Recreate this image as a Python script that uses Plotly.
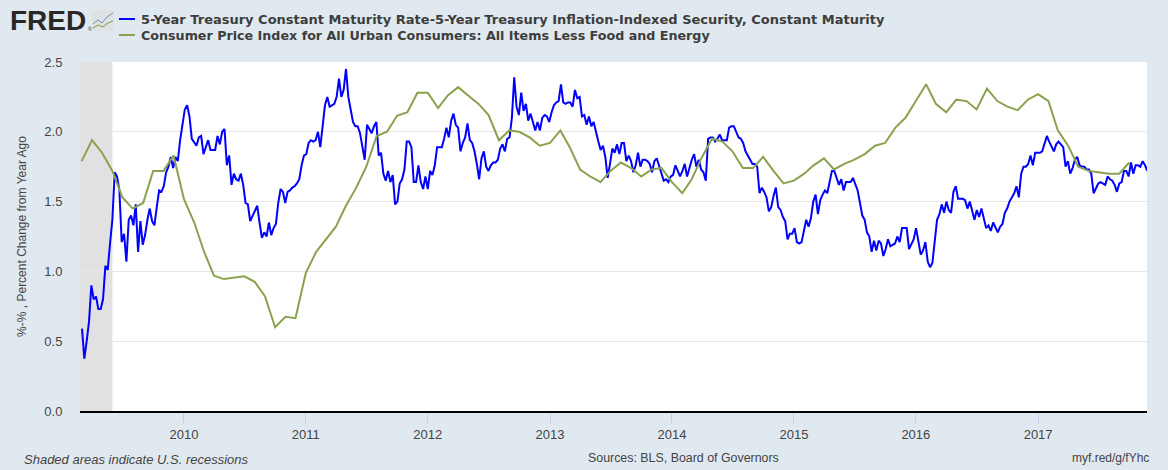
import pandas as pd
import plotly.graph_objects as go

W, H = 1168, 470
L, R, T, B = 80, 1147, 62, 411

spread_label = "5-Year Treasury Constant Maturity Rate-5-Year Treasury Inflation-Indexed Security, Constant Maturity"
cpi_label = "Consumer Price Index for All Urban Consumers: All Items Less Food and Energy"

# weekly breakeven
spread = [
    0.59, 0.375, 0.50, 0.64, 0.90, 0.80, 0.82, 0.73, 0.73, 0.80, 1.04, 1.01, 1.20, 1.37, 1.71, 1.68, 1.58,
    1.21, 1.27, 1.07, 1.37, 1.40, 1.33, 1.48, 1.14, 1.36, 1.19, 1.26, 1.37, 1.45, 1.36, 1.33, 1.46, 1.58,
    1.57, 1.61, 1.71, 1.75, 1.82, 1.74, 1.82, 1.79, 1.94, 2.07, 2.16, 2.19, 2.11, 1.95, 1.92, 1.90, 1.96,
    1.97, 1.84, 1.90, 1.94, 1.87, 1.87, 1.87, 1.97, 1.91, 2.00, 2.02, 1.76, 1.83, 1.62, 1.70, 1.66, 1.65,
    1.70, 1.62, 1.49, 1.48, 1.36, 1.40, 1.44, 1.47, 1.35, 1.24, 1.28, 1.25, 1.35, 1.26, 1.31, 1.34, 1.49,
    1.59, 1.57, 1.49, 1.57, 1.58, 1.60, 1.61, 1.63, 1.66, 1.76, 1.83, 1.84, 1.92, 1.94, 1.93, 1.94, 2.00,
    1.89, 2.06, 2.19, 2.25, 2.18, 2.19, 2.20, 2.25, 2.38, 2.25, 2.30, 2.45, 2.25, 2.16, 2.07, 2.04, 2.04,
    1.99, 1.89, 1.80, 2.05, 2.02, 1.99, 2.04, 2.07, 1.83, 1.85, 1.70, 1.65, 1.72, 1.64, 1.69, 1.48, 1.50,
    1.63, 1.66, 1.73, 1.93, 1.93, 1.89, 1.64, 1.64, 1.76, 1.64, 1.59, 1.68, 1.59, 1.72,
    1.69, 1.76, 1.89, 1.89, 1.89, 1.95, 2.03, 1.96, 2.08, 2.13, 2.05, 2.03, 1.86, 1.92, 1.96, 2.06, 1.94,
    1.92, 1.86, 1.77, 1.66, 1.81, 1.86, 1.75, 1.72, 1.76, 1.78, 1.78, 1.80, 1.88, 1.91, 1.86, 1.95, 1.96,
    2.10, 2.39, 2.18, 2.12, 2.28, 2.15, 2.20, 2.08, 2.13, 2.07, 2.01, 2.07, 2.01, 2.10, 2.12, 2.11, 2.07,
    2.14, 2.19, 2.21, 2.22, 2.34, 2.21, 2.20, 2.21, 2.21, 2.18, 2.30, 2.24, 2.25, 2.11, 2.12, 2.05, 2.11,
    2.04, 2.07, 1.99, 1.93, 1.87, 1.90, 1.82, 1.67, 1.77, 1.88, 1.85, 1.91, 1.84, 1.92, 1.92, 1.79, 1.83,
    1.79, 1.71, 1.76, 1.85, 1.75, 1.80, 1.80, 1.79, 1.77, 1.71, 1.79, 1.81, 1.76, 1.70, 1.65, 1.66, 1.64,
    1.68, 1.69, 1.76, 1.72, 1.68, 1.72, 1.77, 1.68, 1.75, 1.80, 1.84, 1.75, 1.80, 1.73, 1.71, 1.65, 1.95,
    1.96, 1.96, 1.93, 1.95, 1.98, 1.94, 1.94, 1.94, 2.03, 2.04, 2.04, 2.00, 1.96, 1.95, 1.92, 1.86, 1.83,
    1.80, 1.77, 1.77, 1.75, 1.56, 1.60, 1.57, 1.53, 1.43, 1.46, 1.54, 1.60, 1.46, 1.44, 1.39, 1.36, 1.23,
    1.27, 1.27, 1.31,
    1.21, 1.20, 1.21, 1.28, 1.37, 1.32, 1.38, 1.50, 1.55, 1.41, 1.51, 1.55, 1.58, 1.56, 1.65, 1.72, 1.72,
    1.67, 1.62, 1.66, 1.58, 1.64, 1.64, 1.64, 1.67, 1.63, 1.58, 1.49, 1.40, 1.37, 1.28, 1.25, 1.14, 1.22,
    1.15, 1.22, 1.20, 1.11, 1.16, 1.23, 1.18, 1.19, 1.20, 1.25, 1.21, 1.31, 1.31, 1.31, 1.16, 1.20, 1.23,
    1.31, 1.22, 1.12, 1.15, 1.21, 1.07, 1.03, 1.06, 1.22, 1.37, 1.41, 1.48, 1.42, 1.50, 1.44, 1.42, 1.57,
    1.61, 1.52, 1.52, 1.52, 1.51, 1.45, 1.50, 1.43, 1.37, 1.44, 1.39, 1.45, 1.37, 1.31, 1.33, 1.29, 1.35,
    1.32, 1.28, 1.32, 1.34, 1.42, 1.45, 1.50, 1.53, 1.56, 1.61, 1.53, 1.70, 1.75, 1.75, 1.77, 1.83, 1.76,
    1.85, 1.85, 1.85, 1.86, 1.92, 1.97, 1.93, 1.89, 1.86, 1.91, 1.93, 1.91, 1.89, 1.75, 1.79, 1.70, 1.74,
    1.80, 1.82, 1.76, 1.75, 1.75, 1.73, 1.73, 1.70, 1.56, 1.59, 1.63, 1.64, 1.63, 1.62, 1.68, 1.66, 1.65,
    1.62, 1.57, 1.63, 1.64, 1.72, 1.72, 1.68, 1.78, 1.70, 1.76, 1.76, 1.75, 1.79, 1.76, 1.72,
]

# monthly core CPI, percent change from a year ago, Mar 2009 - Oct 2017
cpi = [
    1.79, 1.94, 1.85, 1.72, 1.53, 1.45, 1.49, 1.72, 1.72, 1.83,
    1.52, 1.35, 1.15, 0.97, 0.945, 0.955, 0.965, 0.925, 0.82, 0.60, 0.675, 0.665,
    0.99, 1.14, 1.225, 1.32, 1.47, 1.60, 1.75, 1.97, 2.00, 2.115, 2.14, 2.28,
    2.28, 2.17, 2.26, 2.32, 2.26, 2.20, 2.12, 1.94, 2.01, 2.00, 1.96, 1.90,
    1.92, 2.01, 1.89, 1.73, 1.68, 1.64, 1.72, 1.78, 1.74, 1.68, 1.73, 1.74,
    1.64, 1.56, 1.66, 1.82, 1.95, 1.93, 1.86, 1.74, 1.74, 1.82, 1.72, 1.63,
    1.65, 1.70, 1.76, 1.81, 1.73, 1.77, 1.80, 1.84, 1.90, 1.92, 2.03, 2.10,
    2.22, 2.34, 2.20, 2.14, 2.23, 2.22, 2.16, 2.31, 2.22, 2.18, 2.155, 2.23,
    2.27, 2.22, 2.01, 1.90, 1.75, 1.72, 1.71, 1.70, 1.70, 1.78,
]

spread_dates = pd.date_range("2009-03-02", "2017-11-24", periods=len(spread))
cpi_dates = pd.date_range("2009-03-01", periods=len(cpi), freq="MS")


# paper coordinates run over the plot area, so convert from page pixels
def fx(px):
    return (px - L) / (R - L)


def fy(py):
    return (B - py) / (B - T)


fig = go.Figure()
fig.add_scatter(x=spread_dates, y=spread, mode="lines", name=spread_label,
                line=dict(color="#0000ff", width=2))
fig.add_scatter(x=cpi_dates, y=cpi, mode="lines", name=cpi_label,
                line=dict(color="#8aa24f", width=2))

# recession band
fig.add_vrect(x0="2009-02-24", x1="2009-06-01", fillcolor="#e1e1e1", opacity=1, line_width=0, layer="below")


def page_text(text, x, y, size, anchor="left", color="#444444", family="Liberation Sans", italic=False):
    fig.add_annotation(text=text, xref="paper", yref="paper", x=fx(x), y=fy(y), xanchor=anchor, yanchor="middle",
                       showarrow=False, align=anchor, borderpad=0,
                       font=dict(size=size, color=color, family=family, style="italic" if italic else "normal"))


def page_line(path, color, width=2):
    fig.add_shape(type="path", xref="paper", yref="paper", path=path, line=dict(color=color, width=width))


def pt(x, y):
    return f"{fx(x):.5f},{fy(y):.5f}"


# legend drawn by hand, the sample lines are shorter than plotly's minimum
page_line(f"M{pt(119, 19)} L{pt(135, 19)}", "#0000ff")
page_line(f"M{pt(119, 35)} L{pt(135, 35)}", "#8aa24f")
page_text(f"<b>{spread_label}</b>", 140, 19.5, 13, color="#3d3d3d", family="DejaVu Sans")
page_text(f"<b>{cpi_label}</b>", 140, 35.5, 12.7, color="#3d3d3d", family="DejaVu Sans")

# logo
page_text("<b>FRED</b>", 9, 20, 28, color="#2a2727")
page_text("®", 87, 29, 5, color="#2a2727")
fig.add_shape(type="rect", xref="paper", yref="paper", x0=fx(92), x1=fx(114), y0=fy(31), y1=fy(10),
              fillcolor="#dfe2e3", line_width=0)
page_line(f"M{pt(93, 24)} L{pt(98, 20)} L{pt(102, 23)} L{pt(107, 17)} L{pt(113, 13)}", "#6f93ad", 1)
page_line(f"M{pt(93, 28)} L{pt(98, 25)} L{pt(103, 27)} L{pt(108, 23)} L{pt(113, 21)}", "#7f9a45", 1)

# footer
page_text("Shaded areas indicate U.S. recessions", 23, 459, 13, italic=True)
page_text("Sources: BLS, Board of Governors", 587, 458, 12.4)
page_text("myf.red/g/fYhc", 1150, 458, 12, anchor="right")

fig.update_layout(
    width=W, height=H,
    margin=dict(l=L, r=W - R, t=T, b=H - B, pad=0),
    paper_bgcolor="#e1e9f0",
    plot_bgcolor="#ffffff",
    showlegend=False,
    font=dict(family="Liberation Sans", color="#444444", size=13),
)
fig.update_xaxes(
    type="date",
    range=["2009-02-24", "2017-11-23"],
    tick0="2010-01-01", dtick="M12", tickformat="%Y",
    showgrid=False, zeroline=False,
    showline=True, linecolor="#000000", linewidth=2,
    ticks="outside", ticklen=10, tickwidth=1, tickcolor="#c0d0e0",
)
fig.update_yaxes(
    range=[0, 2.5], tickvals=[0, 0.5, 1, 1.5, 2, 2.5], ticktext=["0.0", "0.5", "1.0", "1.5", "2.0", "2.5"],
    gridcolor="#e6e6e6", gridwidth=1, zeroline=False,
    ticks="outside", ticklen=14, tickcolor="rgba(0,0,0,0)",
    title=dict(text="%-% , Percent Change from Year Ago", font=dict(size=12, color="#444444"), standoff=15),
)

fig.write_html("out.html", config=dict(displayModeBar=False),
               post_script="document.body.style.margin='0';document.body.style.background='#e1e9f0';")
